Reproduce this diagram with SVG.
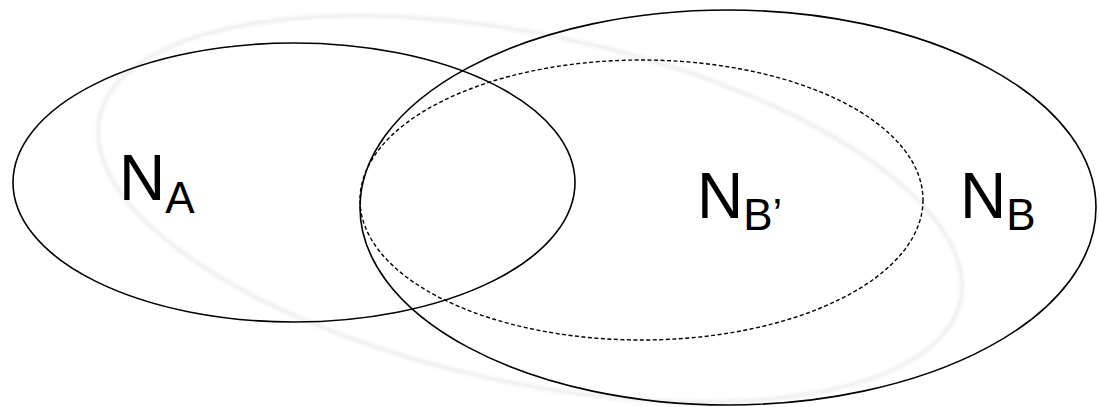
<svg xmlns="http://www.w3.org/2000/svg" width="1099" height="407" viewBox="0 0 1099 407">
  <style>
    .set { fill: none; stroke: #000; stroke-width: 1.6; }
    .dash { fill: none; stroke: #000; stroke-width: 1.4; stroke-dasharray: 4 2.5; }
    .lbl { font-family: "Liberation Sans", Arial, sans-serif; font-size: 64px; fill: #000; }
    .sub { font-size: 44px; }
  </style>
  <defs>
    <filter id="soft" x="-10%" y="-10%" width="120%" height="120%">
      <feGaussianBlur stdDeviation="1.5"/>
    </filter>
  </defs>
  <rect width="1099" height="407" fill="#fff"/>
  <g id="shadow">
    <ellipse cx="530" cy="209" rx="440" ry="174" transform="rotate(12 530 209)" fill="none" stroke="#efefef" stroke-width="4" filter="url(#soft)"/>
  </g>
  <g id="NA">
    <ellipse class="set" cx="294" cy="182.5" rx="281" ry="139.5"/>
    <text class="lbl" x="119" y="200">N<tspan class="sub" dy="13">A</tspan></text>
  </g>
  <g id="NB">
    <ellipse class="set" cx="728" cy="207.5" rx="368" ry="197.5"/>
    <text class="lbl" x="960" y="218">N<tspan class="sub" dy="12">B</tspan></text>
  </g>
  <g id="NBprime">
    <ellipse class="dash" cx="641.5" cy="200" rx="281.5" ry="140"/>
    <text class="lbl" x="697" y="218">N<tspan class="sub" dy="12">B’</tspan></text>
  </g>
  <g id="connectors"/>
</svg>
